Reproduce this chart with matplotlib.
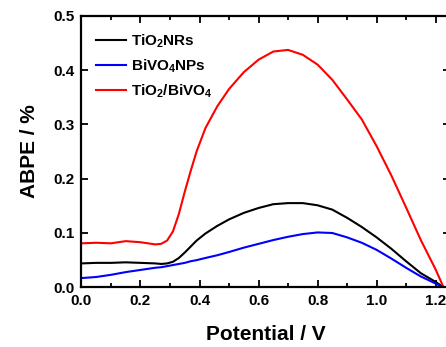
import matplotlib
matplotlib.use("Agg")
import matplotlib.pyplot as plt
from matplotlib.ticker import MultipleLocator, FormatStrFormatter

plt.rcParams['font.family'] = ['Liberation Sans', 'DejaVu Sans']
plt.rcParams['font.weight'] = 'bold'
plt.rcParams['mathtext.fontset'] = 'custom'
plt.rcParams['mathtext.rm'] = 'Liberation Sans:bold'
plt.rcParams['mathtext.bf'] = 'Liberation Sans:bold'
plt.rcParams['mathtext.it'] = 'Liberation Sans:bold'
plt.rcParams['mathtext.default'] = 'rm'

potential = [0, 0.05, 0.1, 0.15, 0.2, 0.25, 0.27, 0.29, 0.31, 0.33, 0.35, 0.37, 0.39, 0.42,
             0.46, 0.5, 0.55, 0.6, 0.65, 0.7, 0.75, 0.8, 0.85, 0.9, 0.95, 1.0, 1.05, 1.1,
             1.15, 1.2, 1.227]
tio2_nrs = [0.044, 0.045, 0.045, 0.046, 0.045, 0.044, 0.043, 0.044, 0.047, 0.054, 0.064,
            0.075, 0.086, 0.099, 0.113, 0.125, 0.137, 0.146, 0.153, 0.155, 0.155, 0.151,
            0.143, 0.128, 0.111, 0.092, 0.071, 0.048, 0.026, 0.010, 0.0]
bivo4_nps = [0.017, 0.019, 0.023, 0.028, 0.032, 0.036, 0.037, 0.039, 0.041, 0.043, 0.045,
             0.048, 0.050, 0.054, 0.059, 0.065, 0.073, 0.080, 0.087, 0.093, 0.098, 0.101,
             0.100, 0.092, 0.082, 0.069, 0.053, 0.036, 0.020, 0.007, 0.0]
tio2_bivo4 = [0.081, 0.082, 0.081, 0.085, 0.083, 0.079, 0.080, 0.086, 0.103, 0.135, 0.176,
              0.214, 0.250, 0.293, 0.333, 0.365, 0.396, 0.419, 0.434, 0.437, 0.428, 0.410,
              0.382, 0.346, 0.309, 0.260, 0.206, 0.147, 0.087, 0.033, 0.0]

labels = ['TiO$_2$NRs', 'BiVO$_4$NPs', 'TiO$_2$/BiVO$_4$']
colors = ['black', '#0000ff', '#ff0000']

fig = plt.figure(figsize=(4.46, 3.47), dpi=100)
ax = fig.add_axes([0.1827, 0.172, 0.827, 0.7828])

for ys, lab, c in zip([tio2_nrs, bivo4_nps, tio2_bivo4], labels, colors):
    ax.plot(potential, ys, color=c, lw=1.5, label=lab)

ax.set_xlim(0, 1.25)
ax.set_ylim(0, 0.5)
ax.xaxis.set_major_locator(MultipleLocator(0.2))
ax.xaxis.set_minor_locator(MultipleLocator(0.1))
ax.yaxis.set_major_locator(MultipleLocator(0.1))
ax.xaxis.set_major_formatter(FormatStrFormatter('%.1f'))
ax.yaxis.set_major_formatter(FormatStrFormatter('%.1f'))

for s in ax.spines.values():
    s.set_linewidth(1.6)
ax.tick_params(which='both', direction='in', top=True, right=True, width=1.3,
               labelsize=11, pad=5)
ax.tick_params(which='major', length=5)
ax.tick_params(which='minor', length=3)
for t in ax.get_xticklabels() + ax.get_yticklabels():
    t.set_fontweight('bold')

ax.set_xlabel('Potential / V', fontsize=15, fontweight='bold', labelpad=12)
ax.set_ylabel('ABPE / %', fontsize=15, fontweight='bold', labelpad=10)

leg = ax.legend(loc='upper left', frameon=False, fontsize=11, handlelength=1.95,
                handletextpad=0.35, labelspacing=0.5, borderaxespad=0.0,
                bbox_to_anchor=(0.022, 0.961))
for t in leg.get_texts():
    t.set_fontweight('bold')

fig.savefig('out.png', dpi=100)
